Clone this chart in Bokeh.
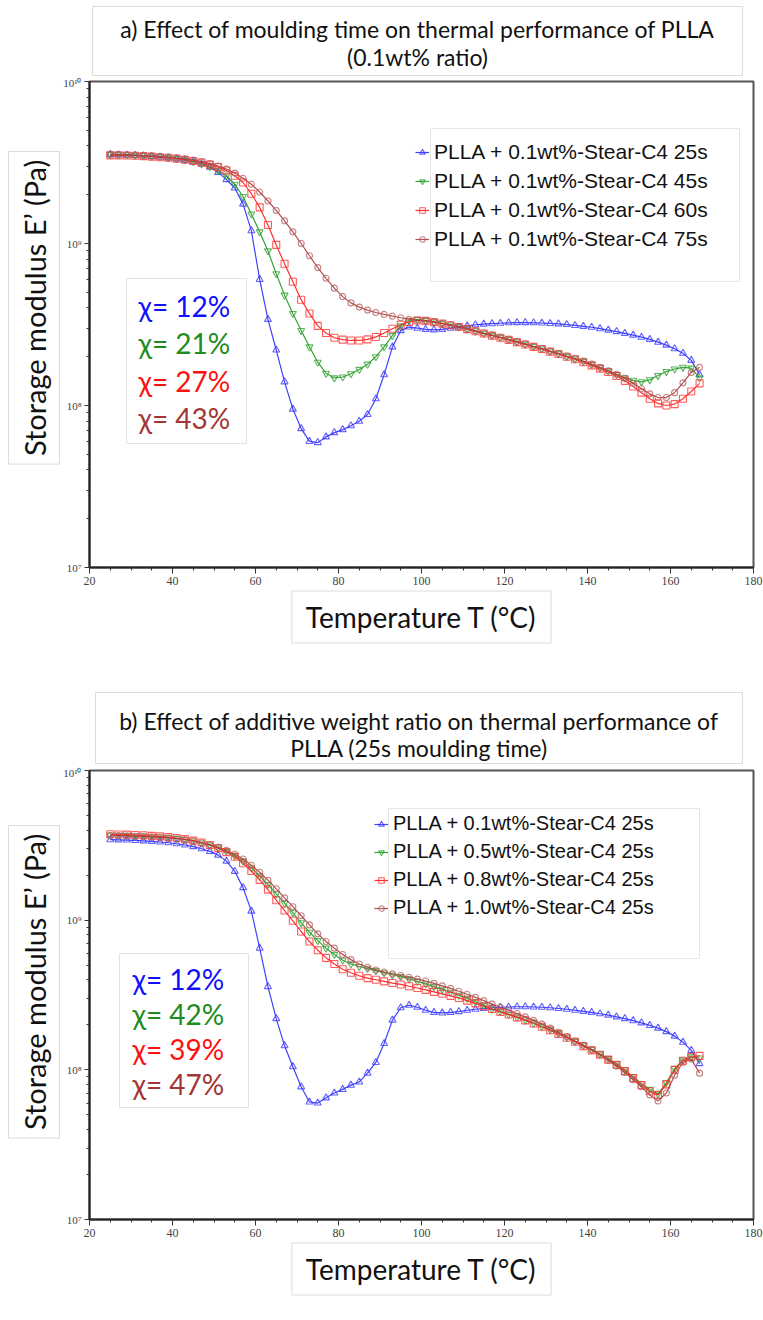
import math
from bokeh.plotting import figure
from bokeh.layouts import column
from bokeh.models import (FixedTicker, Label, BoxAnnotation, Legend, LegendItem,
                          ColumnDataSource, Title)
from bokeh.embed import file_html
from bokeh.resources import INLINE

# ---------------- data (storage modulus in units of 1e8 Pa) ----------------
temps = [25, 27, 29, 31, 33, 35, 37, 39, 41, 43,
         45, 47, 49, 51, 53, 55, 57, 59, 61, 63,
         65, 67, 69, 71, 73, 75, 77, 79, 81, 83,
         85, 87, 89, 91, 93, 95, 97, 99, 101, 103,
         105, 107, 109, 111, 113, 115, 117, 119, 121, 123,
         125, 127, 129, 131, 133, 135, 137, 139, 141, 143,
         145, 147, 149, 151, 153, 155, 157, 159, 161, 163,
         165, 167]

a_25s = [35.5, 35.3, 35.2, 35.0, 34.8, 34.5, 34.2, 33.8, 33.3, 32.7,
         32.0, 31.0, 29.6, 27.5, 24.8, 22.0, 17.5, 12.0, 6.0, 3.4,
         2.2, 1.4, 0.95, 0.72, 0.60, 0.59, 0.64, 0.68, 0.71, 0.75,
         0.80, 0.88, 1.10, 1.55, 2.30, 2.90, 3.05, 3.00, 2.95, 2.93,
         2.95, 3.00, 3.05, 3.10, 3.15, 3.18, 3.20, 3.22, 3.24, 3.25,
         3.25, 3.24, 3.23, 3.21, 3.19, 3.16, 3.12, 3.08, 3.04, 2.98,
         2.92, 2.86, 2.79, 2.72, 2.64, 2.56, 2.46, 2.36, 2.24, 2.10,
         1.90, 1.55]
a_45s = [35.6, 35.5, 35.3, 35.1, 34.9, 34.6, 34.3, 33.9, 33.4, 32.8,
         32.0, 31.0, 29.8, 28.2, 26.2, 23.2, 19.5, 15.2, 11.8, 9.0,
         6.5, 4.8, 3.7, 2.9, 2.3, 1.85, 1.58, 1.48, 1.50, 1.57,
         1.67, 1.80, 2.00, 2.30, 2.70, 3.10, 3.35, 3.40, 3.35, 3.28,
         3.21, 3.14, 3.06, 2.97, 2.88, 2.79, 2.71, 2.63, 2.55, 2.47,
         2.39, 2.31, 2.24, 2.16, 2.09, 2.01, 1.94, 1.87, 1.79, 1.71,
         1.63, 1.55, 1.48, 1.43, 1.40, 1.44, 1.53, 1.62, 1.68, 1.72,
         1.70, 1.48]
a_60s = [35.0, 35.0, 34.9, 34.8, 34.6, 34.4, 34.1, 33.8, 33.4, 32.9,
         32.3, 31.6, 30.7, 29.6, 28.2, 26.2, 23.8, 20.3, 16.7, 13.0,
         9.8, 7.5, 5.8, 4.5, 3.7, 3.1, 2.8, 2.62, 2.55, 2.52,
         2.52, 2.56, 2.65, 2.80, 2.98, 3.15, 3.28, 3.35, 3.33, 3.27,
         3.20, 3.13, 3.05, 2.96, 2.87, 2.78, 2.70, 2.62, 2.54, 2.46,
         2.38, 2.30, 2.23, 2.15, 2.08, 2.00, 1.93, 1.85, 1.77, 1.69,
         1.61, 1.52, 1.42, 1.31, 1.20, 1.10, 1.03, 1.00, 1.02, 1.10,
         1.22, 1.37]
a_75s = [35.2, 35.2, 35.1, 35.0, 34.8, 34.6, 34.4, 34.1, 33.7, 33.3,
         32.7, 32.0, 31.2, 30.1, 28.8, 27.2, 25.3, 23.2, 20.8, 18.3,
         16.0, 13.8, 11.8, 10.0, 8.4, 7.1, 6.1, 5.3, 4.7, 4.3,
         4.05, 3.88, 3.75, 3.65, 3.56, 3.48, 3.41, 3.36, 3.33, 3.28,
         3.22, 3.15, 3.07, 2.98, 2.89, 2.80, 2.72, 2.64, 2.56, 2.48,
         2.40, 2.32, 2.25, 2.17, 2.10, 2.02, 1.95, 1.88, 1.80, 1.72,
         1.64, 1.56, 1.47, 1.37, 1.27, 1.18, 1.12, 1.12, 1.20, 1.38,
         1.60, 1.72]

b_01 = [34.5, 34.4, 34.3, 34.1, 33.9, 33.6, 33.3, 32.9, 32.4, 31.8,
        31.0, 30.0, 28.8, 27.2, 24.8, 21.2, 16.5, 11.5, 6.5, 3.6,
        2.2, 1.45, 1.05, 0.77, 0.61, 0.60, 0.65, 0.70, 0.74, 0.79,
        0.83, 0.95, 1.12, 1.50, 2.15, 2.60, 2.70, 2.62, 2.50, 2.42,
        2.40, 2.42, 2.45, 2.50, 2.54, 2.57, 2.60, 2.62, 2.63, 2.64,
        2.64, 2.63, 2.62, 2.60, 2.57, 2.54, 2.50, 2.46, 2.42, 2.37,
        2.32, 2.26, 2.20, 2.13, 2.06, 1.98, 1.90, 1.80, 1.68, 1.53,
        1.35, 1.10]
b_05 = [37.0, 36.9, 36.8, 36.6, 36.4, 36.2, 35.9, 35.6, 35.2, 34.6,
        33.8, 32.8, 31.7, 30.4, 28.8, 27.0, 24.8, 22.3, 19.8, 17.3,
        15.0, 13.0, 11.2, 9.6, 8.3, 7.3, 6.5, 5.9, 5.4, 5.1,
        4.9, 4.75, 4.6, 4.45, 4.3, 4.2, 4.05, 3.9, 3.75, 3.6,
        3.45, 3.3, 3.15, 3.0, 2.85, 2.7, 2.55, 2.45, 2.35, 2.25,
        2.15, 2.05, 1.95, 1.85, 1.75, 1.65, 1.55, 1.46, 1.37, 1.28,
        1.19, 1.10, 1.00, 0.90, 0.81, 0.74, 0.69, 0.82, 1.02, 1.16,
        1.22, 1.20]
b_08 = [37.5, 37.4, 37.3, 37.1, 36.9, 36.6, 36.3, 35.9, 35.4, 34.8,
        34.0, 33.0, 31.8, 30.3, 28.5, 26.5, 24.0, 21.3, 18.6, 16.0,
        13.6, 11.6, 9.9, 8.4, 7.2, 6.3, 5.6, 5.1, 4.7, 4.45,
        4.25, 4.1, 4.0, 3.9, 3.8, 3.72, 3.62, 3.52, 3.42, 3.32,
        3.22, 3.12, 3.02, 2.9, 2.78, 2.66, 2.55, 2.44, 2.34, 2.24,
        2.14, 2.04, 1.94, 1.84, 1.74, 1.64, 1.54, 1.44, 1.35, 1.26,
        1.17, 1.08, 0.98, 0.88, 0.79, 0.72, 0.68, 0.80, 1.00, 1.15,
        1.22, 1.24]
b_10 = [36.8, 36.7, 36.6, 36.4, 36.2, 36.0, 35.7, 35.4, 35.0, 34.5,
        33.8, 32.9, 31.9, 30.7, 29.3, 27.6, 25.6, 23.3, 20.9, 18.5,
        16.2, 14.1, 12.3, 10.7, 9.3, 8.1, 7.2, 6.5, 5.9, 5.45,
        5.1, 4.85, 4.65, 4.5, 4.38, 4.27, 4.16, 4.04, 3.92, 3.78,
        3.64, 3.5, 3.35, 3.2, 3.05, 2.9, 2.75, 2.62, 2.5, 2.38,
        2.26, 2.14, 2.02, 1.9, 1.78, 1.67, 1.56, 1.46, 1.36, 1.26,
        1.16, 1.06, 0.96, 0.86, 0.77, 0.68, 0.62, 0.70, 0.92, 1.12,
        1.18, 0.95]

a_labels = ["PLLA + 0.1wt%-Stear-C4 25s", "PLLA + 0.1wt%-Stear-C4 45s",
            "PLLA + 0.1wt%-Stear-C4 60s", "PLLA + 0.1wt%-Stear-C4 75s"]
b_labels = ["PLLA + 0.1wt%-Stear-C4 25s", "PLLA + 0.5wt%-Stear-C4 25s",
            "PLLA + 0.8wt%-Stear-C4 25s", "PLLA + 1.0wt%-Stear-C4 25s"]
a_chi = ["χ= 12%", "χ= 21%", "χ= 27%", "χ= 43%"]
b_chi = ["χ= 12%", "χ= 42%", "χ= 39%", "χ= 47%"]
a_title = ["a) Effect of moulding time on thermal performance of PLLA", "(0.1wt% ratio)"]
b_title = ["b) Effect of additive weight ratio on thermal performance of",
           "PLLA (25s moulding time)"]
x_title = "Temperature T (°C)"
y_title = "Storage modulus E’ (Pa)"

x_major = [20, 40, 60, 80, 100, 120, 140, 160, 180]
x_minor = [25, 30, 35, 45, 50, 55, 65, 70, 75, 85, 90, 95, 105, 110, 115,
           125, 130, 135, 145, 150, 155, 165, 170, 175]
y_major = [1e7, 1e8, 1e9, 1e10]
y_major_labels = {1e7: "10⁷", 1e8: "10⁸", 1e9: "10⁹", 1e10: "10¹⁰"}
y_minor = [k * 10.0 ** n for n in (7, 8, 9) for k in range(2, 10)]

line_cols = ["#2b2bff", "#1f9a1f", "#ff1a1a", "#a83a3a"]
mark_cols = ["#3b3bff", "#36a336", "#ff3333", "#b86464"]
chi_cols = ["#1010ff", "#1e8c1e", "#ff1010", "#a33535"]
markers = ["triangle", "inverted_triangle", "square", "circle"]
marker_sizes = [7, 7, 7, 6]

FRAME_L, FRAME_R = 89, 753
PAGE_W = 763
TITLE_PROPS = Title.properties()


class Geo:
    def __init__(self, page_top, frame_top, frame_bottom):
        self.page_top = page_top
        self.top = frame_top
        self.bottom = frame_bottom

    def tx(self, px):
        return 20 + (px - FRAME_L) * 160.0 / (FRAME_R - FRAME_L)

    def ey(self, py):
        return 10 ** (10 - (py - self.top) * 3.0 / (self.bottom - self.top))


def white_box(left, right, top, bottom, color):
    b = BoxAnnotation(left=left, right=right, top=top, bottom=bottom)
    b.fill_color = "white"
    b.fill_alpha = 1.0
    b.line_color = color
    b.line_width = 1
    b.line_dash = "solid"
    b.line_alpha = 1.0
    return b


def add_box(p, geo, x0, x1, y0, y1, color="#dddddd"):
    p.add_layout(white_box(geo.tx(x0), geo.tx(x1), geo.ey(y0), geo.ey(y1), color))


def title_strip(height, lines, box, line_ys):
    """decorative strip above a panel: framed two-line heading.
    Its frame is aligned with the panel frames, ranges are in page pixels."""
    t = figure(frame_width=FRAME_R - FRAME_L, frame_height=height,
               x_range=(FRAME_L, FRAME_R), y_range=(0, height),
               min_border_left=FRAME_L, min_border_right=PAGE_W - FRAME_R,
               min_border_top=0, min_border_bottom=0,
               x_axis_location=None, y_axis_location=None,
               output_backend="svg", toolbar_location=None)
    t.grid.visible = False
    t.outline_line_color = None
    x0, x1, y0, y1 = box
    t.add_layout(white_box(x0, x1, height - y0, height - y1, "#dcdcdc"))
    for txt, ly in zip(lines, line_ys):
        t.add_layout(Label(x=(x0 + x1) / 2, y=height - ly, text=txt,
                           text_align="center", text_baseline="middle",
                           text_font="Lato", text_font_size="23px", text_color="#111111"))
    return t


def boxed_title(text, size, pad, **kw):
    t = Title(text=text, text_font="Lato", text_font_size=size, text_font_style="normal",
              text_color="#111111", **kw)
    if "border_line_color" in TITLE_PROPS:
        t.border_line_color = "#dcdcdc"
        t.border_line_width = 1
    if "background_fill_color" in TITLE_PROPS:
        t.background_fill_color = "white"
    if "padding" in TITLE_PROPS:
        t.padding = pad
    return t


def make_panel(geo, fig_h, series, labels, chis, spec):
    frame_h = geo.bottom - geo.top
    btop = geo.top - geo.page_top
    p = figure(frame_width=FRAME_R - FRAME_L, frame_height=frame_h,
               x_range=(20, 180), y_range=(1e7, 1e10), y_axis_type="log",
               min_border_left=FRAME_L, min_border_right=PAGE_W - FRAME_R,
               min_border_top=btop, min_border_bottom=fig_h - btop - frame_h,
               output_backend="svg", toolbar_location=None)
    p.grid.visible = False
    p.outline_line_color = "#555555"
    p.outline_line_width = 2

    xa = p.xaxis[0]
    xa.ticker = FixedTicker(ticks=x_major, minor_ticks=x_minor)
    ya = p.yaxis[0]
    ya.ticker = FixedTicker(ticks=y_major, minor_ticks=y_minor)
    ya.major_label_overrides = y_major_labels
    for ax in (xa, ya):
        ax.axis_line_width = 2
        ax.axis_line_color = "#222222"
        ax.major_tick_in = 0
        ax.minor_tick_in = 0
        ax.major_tick_line_color = "#333333"
        ax.minor_tick_line_color = "#333333"
        ax.major_label_text_font = "Liberation Sans Narrow"
        ax.major_label_text_color = "#444444"
    xa.major_tick_out = 6
    xa.minor_tick_out = 3
    xa.major_label_text_font_size = "12px"
    xa.major_label_standoff = 3
    ya.major_tick_out = 5
    ya.minor_tick_out = 3
    ya.major_label_text_font_size = "11px"
    ya.major_label_standoff = 3

    # boxed axis titles in the side panels
    p.add_layout(boxed_title(x_title, "28px", (14, 9), align="center",
                             standoff=3), "below")
    p.add_layout(boxed_title(y_title, "29px", 8, align="right",
                             standoff=2, offset=spec["yt_offset"]), "left")

    items = []
    for vals, lab, lc, mc, mk, ms in zip(series, labels, line_cols, mark_cols, markers, marker_sizes):
        src = ColumnDataSource(dict(T=temps, E=[v * 1e8 for v in vals]))
        r_l = p.line("T", "E", source=src, line_color=lc, line_width=1.2, line_alpha=0.9)
        r_s = p.scatter("T", "E", source=src, marker=mk, size=ms, line_color=mc,
                        fill_color=None, line_width=1.1, line_alpha=0.8)
        items.append(LegendItem(label=lab, renderers=[r_l, r_s]))

    add_box(p, geo, *spec["leg_box"], color="#e6e6e6")
    lg = spec["leg"]
    leg = Legend(items=items, location=(lg["x"] - FRAME_L, geo.bottom - lg["bottom"]),
                 padding=4, spacing=lg["spacing"], glyph_width=14, glyph_height=14,
                 label_standoff=5, label_height=lg["lh"], margin=0,
                 label_text_font="Liberation Sans", label_text_font_size=lg["fs"],
                 label_text_color="#111111",
                 background_fill_alpha=0, border_line_alpha=0)
    p.add_layout(leg)

    cb = spec["chi_box"]
    add_box(p, geo, *cb, color="#e2e2e2")
    for txt, py, col in zip(chis, spec["chi_y"], chi_cols):
        p.add_layout(Label(x=geo.tx(spec["chi_x"]), y=geo.ey(py), text=txt,
                           text_align="left", text_baseline="middle",
                           text_font="Lato", text_font_size="28px", text_color=col))
    return p


# layout: strip a (0-76), panel a (76-655), strip b (655-766), panel b (766-1320)
ta = title_strip(76, a_title, (92, 742, 6, 75), (28, 56))
geo_a = Geo(page_top=76, frame_top=81, frame_bottom=567)
spec_a = dict(yt_offset=(143 + 8) - 81,
              leg_box=(430, 739, 128, 281),
              leg=dict(x=411, bottom=255, spacing=5, lh=21, fs="21px"),
              chi_box=(126, 246, 278, 443), chi_x=138, chi_y=(305, 342, 380, 417))
pa = make_panel(geo_a, 655 - 76, [a_25s, a_45s, a_60s, a_75s], a_labels, a_chi, spec_a)

tb = title_strip(111, b_title, (95, 742, 692 - 655, 763 - 655), (720 - 655, 747 - 655))
geo_b = Geo(page_top=766, frame_top=770, frame_bottom=1219)
spec_b = dict(yt_offset=(817 + 8) - 770,
              leg_box=(388, 699, 808, 958),
              leg=dict(x=370, bottom=923, spacing=5, lh=20, fs="20px"),
              chi_box=(119, 248, 953, 1107), chi_x=132, chi_y=(978, 1013, 1048, 1083))
pb = make_panel(geo_b, 1320 - 766, [b_01, b_05, b_08, b_10], b_labels, b_chi, spec_b)

layout = column(ta, pa, tb, pb, spacing=0)
open("out.html", "w").write(file_html(layout, INLINE))
